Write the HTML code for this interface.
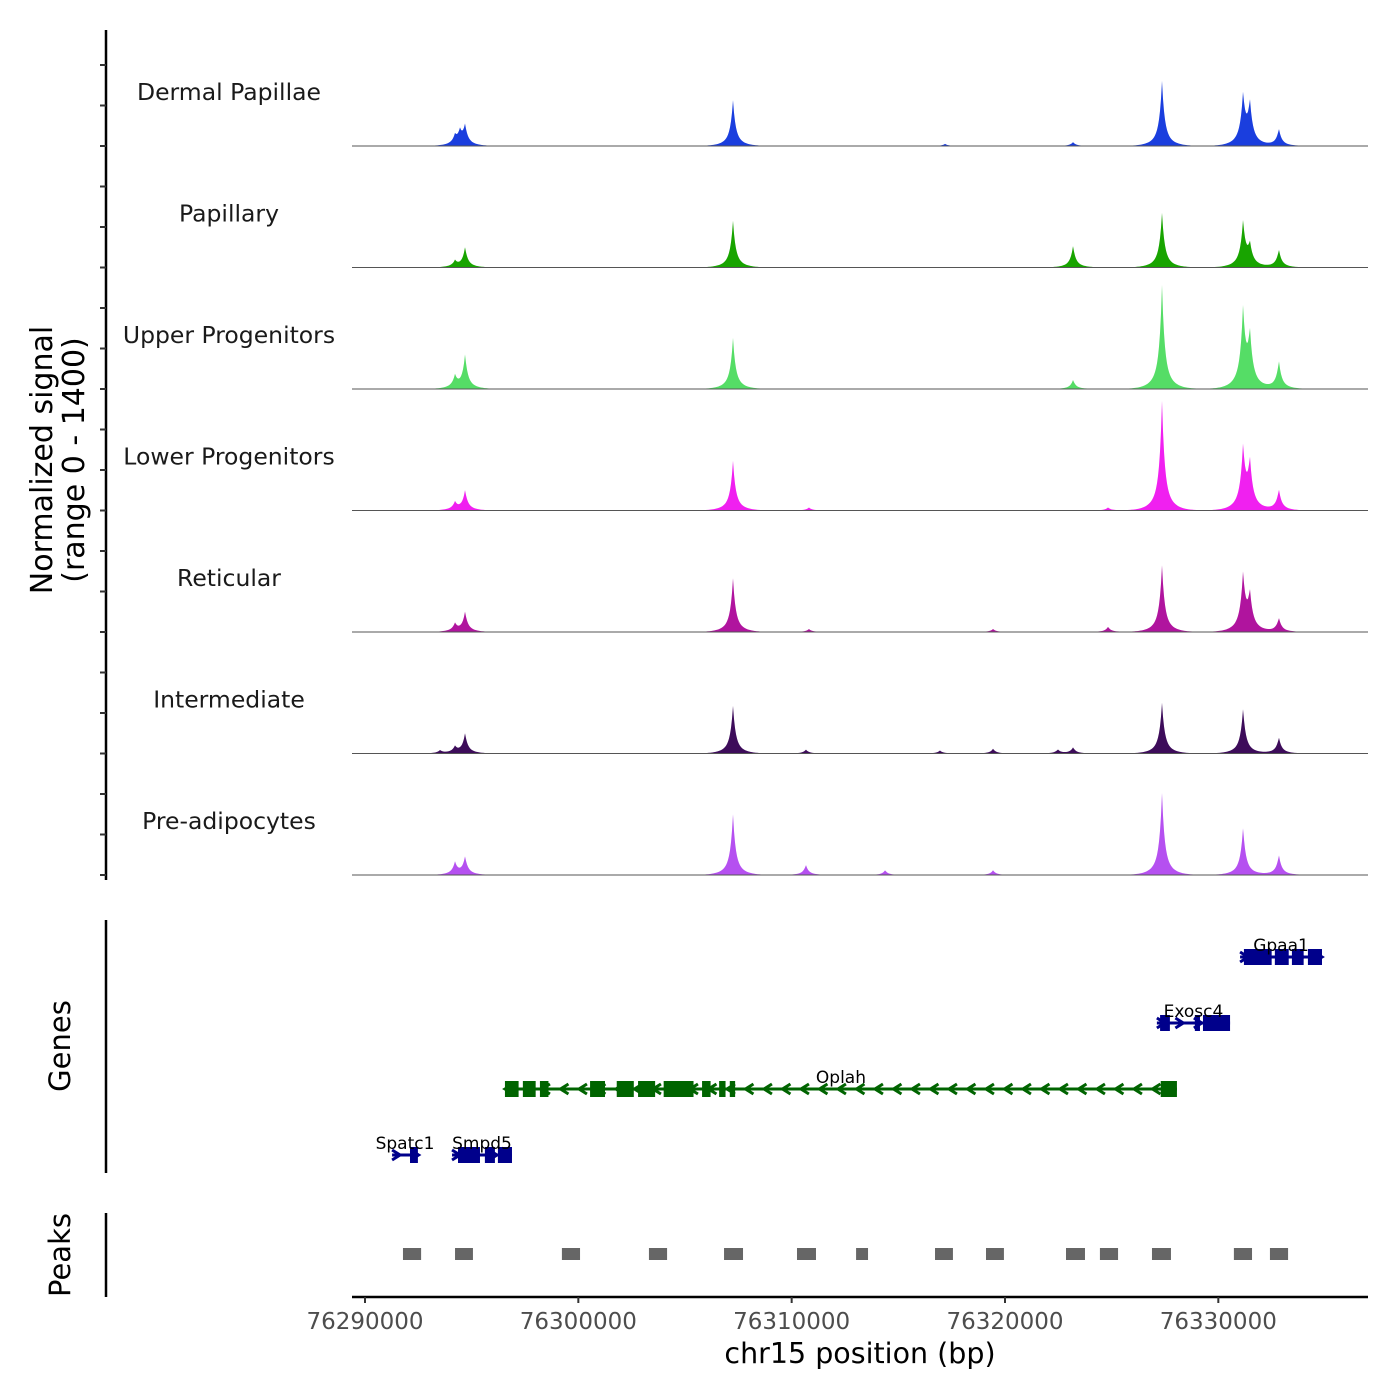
<!DOCTYPE html>
<html><head><meta charset="utf-8"><style>
html,body{margin:0;padding:0;background:#fff;}
svg{display:block;font-family:"DejaVu Sans","Liberation Sans",sans-serif;}
</style></head><body>
<svg id="chart" width="1400" height="1400" viewBox="0 0 1400 1400" xmlns="http://www.w3.org/2000/svg">
<g id="tracks"></g>
<g id="genes"></g>
<g id="peaks"></g>
<g id="axes"></g>
</svg>
<script>
// ---- data (positions in kb) ----
const trackNames = ["Dermal Papillae","Papillary","Upper Progenitors","Lower Progenitors","Reticular","Intermediate","Pre-adipocytes"];
const trackColors = ["#1a3ede","#18a400","#55dd66","#f020f0","#b0149e","#3d0c5a","#b550f0"];
const peakPos = [
  [76294.22,76294.45,76294.69,76307.25,76317.19,76323.19,76327.36,76331.16,76331.48,76332.84],
  [76294.22,76294.69,76307.25,76323.19,76327.36,76331.16,76331.48,76332.84],
  [76294.22,76294.69,76307.25,76323.19,76327.36,76331.16,76331.48,76332.84],
  [76294.22,76294.69,76307.25,76310.81,76324.83,76327.36,76331.16,76331.48,76332.84],
  [76294.22,76294.69,76307.25,76310.81,76319.44,76324.83,76327.36,76331.16,76331.48,76332.84],
  [76293.52,76294.22,76294.69,76307.25,76310.67,76316.95,76319.44,76322.48,76323.19,76327.36,76331.16,76332.84],
  [76294.22,76294.69,76307.25,76310.67,76314.38,76319.44,76327.36,76331.16,76332.84]
];
const peakVal = [
  [95,140,220,530,25,45,750,560,460,195],
  [70,230,540,250,630,520,230,205],
  [140,390,590,105,1200,890,575,320],
  [90,230,575,35,35,1265,700,520,240],
  [90,230,620,35,35,60,770,645,400,160],
  [35,70,230,550,45,35,55,45,70,585,520,185],
  [140,205,700,115,55,55,945,550,230]
];
const geneNames = ["Spatc1","Smpd5","Oplah","Exosc4","Gpaa1"];
const geneStart = [76291.27,76294.08,76296.56,76327.12,76331.02];
const geneEnd = [76292.48,76296.89,76328.06,76330.55,76334.86];
const geneStrand = ["+","+","-","+","+"];
const geneRow = [0,0,1,2,3];
const geneExons = [
  [[76292.11,76292.48]],
  [[76294.36,76295.39],[76295.62,76296.09],[76296.23,76296.89]],
  [[76296.56,76297.2],[76297.4,76298.0],[76298.2,76298.6],[76300.55,76301.25],[76301.8,76302.6],[76302.8,76303.6],[76304.0,76305.4],[76305.8,76306.2],[76306.6,76306.9],[76307.1,76307.35],[76327.3,76328.06]],
  [[76327.27,76327.73],[76328.9,76329.14],[76329.28,76330.55]],
  [[76331.2,76332.5],[76332.65,76333.3],[76333.45,76334.0],[76334.2,76334.86]]
];
const peakStart = [76291.78,76294.22,76299.23,76303.31,76306.83,76310.25,76313.02,76316.72,76319.11,76322.86,76324.45,76326.89,76330.73,76332.42];
const peakEnd = [76292.63,76295.06,76300.08,76304.16,76307.72,76311.14,76313.58,76317.56,76319.95,76323.75,76325.30,76327.78,76331.58,76333.27];
const xTicks = [76290,76300,76310,76320,76330];
const xTickLabels = ["76290000","76300000","76310000","76320000","76330000"];

// ---- scales ----
const X0=352, X1=1368;
const xS = kb => 365 + (kb-76290)*213.33/10;
const trackH = 121.5, base0 = 146;
const yMax = 1400;
const yS = v => v*trackH/yMax;
const NS="http://www.w3.org/2000/svg";
function mk(tag, attrs, parent){const e=document.createElementNS(NS,tag);for(const k in attrs)e.setAttribute(k,attrs[k]);parent.appendChild(e);return e;}

const gT=document.getElementById('tracks');
trackNames.forEach((name,i)=>{
  const base = base0 + i*trackH;
  let d=`M${X0},${base}`;
  for(let px=X0; px<=X1; px++){
    let v=0;
    peakPos[i].forEach((p,j)=>{
      const dx=Math.abs(px - xS(p));
      v += peakVal[i][j]*(0.7*Math.exp(-dx/2.4)+0.3*Math.exp(-dx/8));
    });
    d+=`L${px},${(base - yS(v)).toFixed(2)}`;
  }
  d+=`L${X1},${base}Z`;
  const p=mk('path',{d:d,fill:trackColors[i],stroke:'none'},gT);
  
  
  const bl=mk('line',{x1:X0,x2:X1,y1:base,y2:base,stroke:'#555','stroke-width':1},gT);
  
  
  const t=mk('text',{x:229,y:base-46,'font-size':23.5,'text-anchor':'middle',fill:'#1a1a1a'},gT);
  t.textContent=name;
  
  
});

// genes
const gG=document.getElementById('genes');
const rowY=[1155,1089,1023,957];
geneNames.forEach((g,i)=>{
  const y=rowY[geneRow[i]];
  const col = geneStrand[i]==="+"?"#00008b":"#006400";
  const grp=mk('g',{},gG);
  
  
  const xa=xS(geneStart[i]), xb=xS(geneEnd[i]);
  mk('line',{x1:xa,x2:xb,y1:y,y2:y,stroke:col,'stroke-width':3},grp);
  for(let x=xa+4; x<xb-2; x+=18.5){
    const s = geneStrand[i]==="+"?1:-1;
    mk('polyline',{points:`${x-s*4},${y-5} ${x+s*4},${y} ${x-s*4},${y+5}`,fill:'none',stroke:col,'stroke-width':3},grp);
  }
  geneExons[i].forEach(ex=>{
    mk('rect',{x:xS(ex[0]),y:y-8,width:Math.max(3,xS(ex[1])-xS(ex[0])),height:16,fill:col},grp);
  });
  const t=mk('text',{x:(xa+xb)/2,y:y-6,'font-size':17,'text-anchor':'middle',fill:'#000'},grp);
  t.textContent=g;
});

// peaks
const gP=document.getElementById('peaks');
peakStart.forEach((s,i)=>{
  const r=mk('rect',{x:xS(s),y:1248,width:xS(peakEnd[i])-xS(s),height:12,fill:'#666'},gP);
  
  
});

// axes
const gA=document.getElementById('axes');
mk('line',{x1:106,x2:106,y1:30,y2:880,stroke:'#000','stroke-width':2.5},gA);
for(let k=-2;k<=18;k++){
  const y=base0 + k*trackH/3;
  if(y<40||y>880) continue;
  mk('line',{x1:100,x2:106,y1:y,y2:y,stroke:'#333','stroke-width':2},gA);
}
mk('line',{x1:106,x2:106,y1:920,y2:1173,stroke:'#000','stroke-width':2.5},gA);
mk('line',{x1:106,x2:106,y1:1213,y2:1297,stroke:'#000','stroke-width':2.5},gA);
mk('line',{x1:X0,x2:X1,y1:1297,y2:1297,stroke:'#000','stroke-width':2.5},gA);
xTicks.forEach((v,i)=>{
  mk('line',{x1:xS(v),x2:xS(v),y1:1297,y2:1303,stroke:'#333','stroke-width':2},gA);
  const t=mk('text',{x:xS(v),y:1329,'font-size':23,'text-anchor':'middle',fill:'#4d4d4d'},gA);
  t.textContent=xTickLabels[i];
  
  
});
function label(txt,x,y,rot,size,name){
  const t=mk('text',{x:x,y:y,'font-size':size,'text-anchor':'middle',fill:'#000',transform:rot?`rotate(-90 ${x} ${y})`:''},gA);
  t.textContent=txt;
  
  
}
label("chr15 position (bp)",860,1363,false,28.5,'x-axis-title');
label("Normalized signal",52,460,true,30,'y-axis-title');
label("(range 0 - 1400)",84,460,true,30,'y-axis-subtitle');
label("Genes",70,1046,true,29,'genes-axis-title');
label("Peaks",70,1255,true,29,'peaks-axis-title');
</script>
</body></html>
